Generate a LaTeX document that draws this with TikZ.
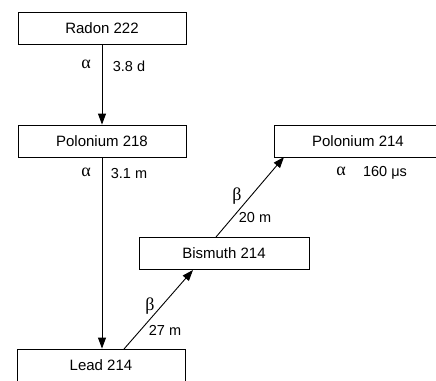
\documentclass[tikz,border=0pt]{standalone}
\usepackage{fontspec}
\setmainfont{Liberation Sans}
\newfontfamily\grk{Liberation Serif}
\usetikzlibrary{arrows.meta}
\begin{document}
\begin{tikzpicture}[x=1pt,y=-1pt,
  box/.style={draw, line width=0.9pt, minimum width=168pt, minimum height=32pt, inner sep=0pt, font=\fontsize{15}{17}\selectfont},
  lbl/.style={font=\fontsize{14.5}{16}\selectfont, inner sep=0pt},
  glbl/.style={font=\grk\fontsize{18}{20}\selectfont, inner sep=0pt},
  arr/.style={-{Triangle[length=11pt,width=8pt]}, line width=0.9pt}]
\useasboundingbox (0,0) rectangle (436,380);
\node[box] (rn) at (102,28.5) {Radon 222};
\node[box] (po218) at (102,141) {Polonium 218};
\node[box] (pb) at (101,365) {Lead 214};
\node[box, minimum width=170pt] (bi) at (224,253.5) {Bismuth 214};
\node[box] (po214) at (358,141) {Polonium 214};
\draw[arr] (rn) -- (po218);
\draw[arr] (po218) -- (po218|-pb.north);
\coordinate (pbs) at (124,349);
\coordinate (bie) at (193,270);
\draw[arr] (pbs) -- (bie);
\coordinate (bis) at (216,237);
\coordinate (poe) at (284,157);
\draw[arr] (bis) -- (poe);
\node[glbl] (a1) at (86,64) {α};
\node[lbl] (t1) at (129,66) {3.8 d};
\node[glbl] (a2) at (86,172) {α};
\node[lbl] (t2) at (129,174) {3.1 m};
\node[glbl] (b1) at (150,306) {β};
\node[lbl] (t3) at (165,330) {27 m};
\node[glbl] (b2) at (237,196) {β};
\node[lbl] (t4) at (255,218) {20 m};
\node[glbl] (a3) at (341,171) {α};
\node[lbl] (t5) at (385,173) {160 μs};
\end{tikzpicture}
\end{document}
